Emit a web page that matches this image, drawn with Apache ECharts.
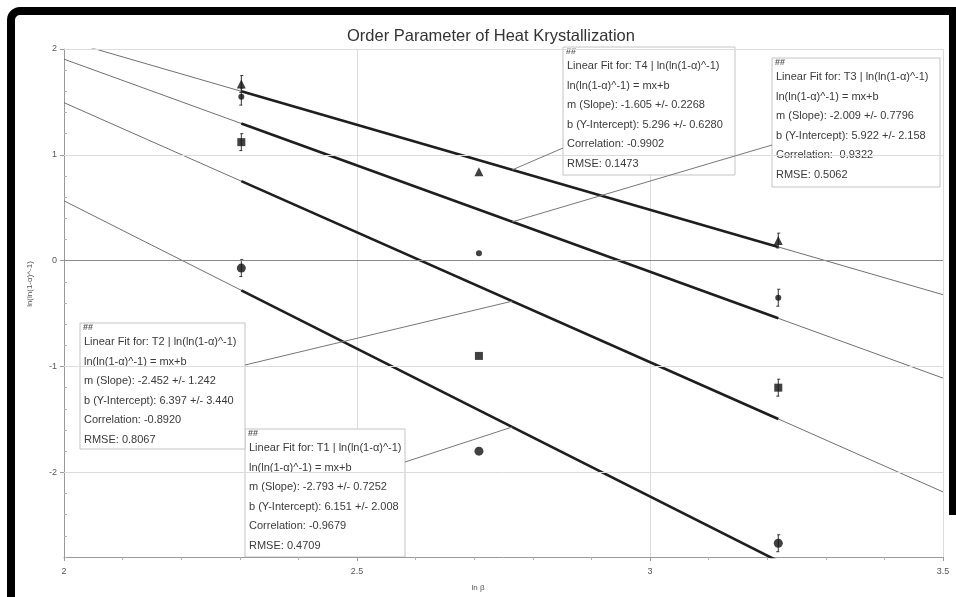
<!DOCTYPE html>
<html><head><meta charset="utf-8">
<script src="https://cdn.jsdelivr.net/npm/echarts@6/dist/echarts.min.js"></script>
<style>html,body{margin:0;padding:0;background:#fff;}#c{width:956px;height:597px;}</style>
</head><body><div id="c"></div>
<script>
// ---- data ----
const xLnBeta = [2.3026, 2.7081, 3.2189];           // ln(10), ln(15), ln(25)
const seriesNames = ['T1', 'T2', 'T3', 'T4'];
const yT1 = [-0.07, -1.80, -2.67];
const yT2 = [1.12, -0.90, -1.20];
const yT3 = [1.55, 0.07, -0.35];
const yT4 = [1.67, 0.84, 0.19];
const errT1 = [0.08, 0, 0.08];
const errT2 = [0.08, 0, 0.08];
const errT3 = [0.08, 0, 0.08];
const errT4 = [0.08, 0, 0.07];
const slopes = [-2.793, -2.452, -2.009, -1.605];
const intercepts = [6.151, 6.397, 5.922, 5.296];
const slopeText = ['-2.793', '-2.452', '-2.009', '-1.605'];
const slopeErrText = ['0.7252', '1.242', '0.7796', '0.2268'];
const interceptText = ['6.151', '6.397', '5.922', '5.296'];
const interceptErrText = ['2.008', '3.440', '2.158', '0.6280'];
const correlationText = ['-0.9679', '-0.8920', '-0.9322', '-0.9902'];
const rmseText = ['0.4709', '0.8067', '0.5062', '0.1473'];
const xTickLabels = [2, 2.5, 3, 3.5];
const yTickLabels = [-2, -1, 0, 1, 2];
const yName = 'ln(ln(1-α)^-1)';
const xName = 'ln β';
const titleText = 'Order Parameter of Heat Krystallization';

// ---- layout / style (not data) ----
const FONT = '"Liberation Sans", Arial, sans-serif';
const markerSymbols = ['circle', 'rect', 'circle', 'triangle'];
const markerSizes = [9, 8, 6, 9];
const boxes = [ // T1, T2, T3, T4
  { left: 245, top: 429, w: 160, h: 128, from: [405, 462] },
  { left: 80, top: 323, w: 165, h: 126, from: [245, 365] },
  { left: 772, top: 58, w: 168, h: 129, from: [772, 145] },
  { left: 563, top: 47, w: 172, h: 128, from: [563, 148] }
];
const anchorX = 2.765;

const ys = [yT1, yT2, yT3, yT4];
const errs = [errT1, errT2, errT3, errT4];
const xMin = 2, xMax = 3.5;

const series = [];
ys.forEach((yArr, i) => {
  const m = slopes[i], b = intercepts[i];
  series.push({
    type: 'line', name: seriesNames[i] + ' fit ext', showSymbol: false, silent: true, z: 2,
    lineStyle: { color: '#707070', width: 1 },
    data: [[xMin, m * xMin + b], [xMax, m * xMax + b]]
  });
  series.push({
    type: 'line', name: seriesNames[i] + ' fit', showSymbol: false, silent: true, z: 3,
    lineStyle: { color: '#1e1e1e', width: 2.6 },
    data: [[xLnBeta[0], m * xLnBeta[0] + b], [xLnBeta[2], m * xLnBeta[2] + b]]
  });
  series.push({
    type: 'custom', name: seriesNames[i] + ' err', z: 4, silent: true,
    data: xLnBeta.map((x, k) => [x, yArr[k] - errs[i][k], yArr[k] + errs[i][k]]),
    renderItem: function (params, api) {
      const lo = api.coord([api.value(0), api.value(1)]);
      const hi = api.coord([api.value(0), api.value(2)]);
      if (Math.abs(hi[1] - lo[1]) < 1) return null;
      const st = { stroke: '#333', lineWidth: 1 };
      return { type: 'group', children: [
        { type: 'line', shape: { x1: lo[0], y1: lo[1], x2: hi[0], y2: hi[1] }, style: st },
        { type: 'line', shape: { x1: lo[0] - 2, y1: lo[1], x2: lo[0] + 1, y2: lo[1] }, style: st },
        { type: 'line', shape: { x1: hi[0] - 1, y1: hi[1], x2: hi[0] + 2, y2: hi[1] }, style: st }
      ]};
    }
  });
  series.push({
    type: 'scatter', name: seriesNames[i], z: 5,
    symbol: markerSymbols[i], symbolSize: markerSizes[i],
    itemStyle: { color: '#111' },
    data: xLnBeta.map((x, k) => [x, yArr[k]])
  });
});
// horizontal grid lines
series.push({
  type: 'line', data: [], silent: true, z: 1,
  markLine: {
    symbol: 'none', silent: true, label: { show: false }, animation: false,
    data: yTickLabels.map(v => ({ yAxis: v, lineStyle: { color: v === 0 ? '#8a8a8a' : '#dcdcdc', width: v === 0 ? 1.2 : 1, type: 'solid' } }))
  }
});

const chart = echarts.init(document.getElementById('c'), null, { renderer: 'canvas' });
const option = {
  animation: false,
  backgroundColor: '#fff',
  title: { text: titleText, left: 342, top: 23, textStyle: { fontFamily: FONT, fontSize: 16.5, fontWeight: 'normal', color: '#333' } },
  grid: { left: 64, right: 13, top: 49, bottom: 40 },
  xAxis: {
    type: 'value', min: xMin, max: xMax, interval: 0.5,
    axisLine: { onZero: false, lineStyle: { color: '#9a9a9a' } },
    axisTick: { length: 4, lineStyle: { color: '#9a9a9a' } },
    minorTick: { show: true, splitNumber: 5, length: 3, lineStyle: { color: '#b0b0b0' } },
    axisLabel: { fontFamily: FONT, fontSize: 9, color: '#555', margin: 10,
      formatter: v => { const t = xTickLabels.find(s => Math.abs(s - v) < 1e-6); return t === undefined ? '' : String(t); } },
    splitLine: { show: true, lineStyle: { color: '#dcdcdc', width: 1 } }
  },
  yAxis: [{
    type: 'value', min: -2.8, max: 2, interval: 0.2,
    axisLine: { show: true, onZero: false, lineStyle: { color: '#9a9a9a' } },
    axisTick: { show: true, inside: true, length: 3, lineStyle: { color: '#b0b0b0' } },
    axisLabel: { fontFamily: FONT, fontSize: 9, color: '#555', margin: 7,
      formatter: v => { const t = yTickLabels.find(s => Math.abs(s - v) < 1e-6); return t === undefined ? '' : String(t); } },
    splitLine: { show: false }
  }, {
    type: 'value', min: -2.8, max: 2, position: 'left',
    axisLine: { show: false }, axisLabel: { show: false }, splitLine: { show: false },
    axisTick: { show: true, length: 4, customValues: yTickLabels, lineStyle: { color: '#9a9a9a' } }
  }],
  series: series
};
chart.setOption(option);

// annotation boxes + leader lines
const graphics = [];
graphics.push({ type: 'rect', silent: true, z: 100, shape: { x: 11, y: 11, width: 1100, height: 800, r: [9, 0, 0, 0] }, style: { fill: null, stroke: '#000', lineWidth: 8 } });
graphics.push({ type: 'rect', silent: true, z: 100, shape: { x: 949, y: 7, width: 7, height: 508 }, style: { fill: '#000' } });
graphics.push({ type: 'text', silent: true, x: 30, y: 284, rotation: Math.PI / 2, style: { text: yName, font: '8px ' + FONT, fill: '#555', textAlign: 'center', textVerticalAlign: 'middle' } });
graphics.push({ type: 'text', silent: true, x: 478, y: 588, style: { text: xName, font: '8px ' + FONT, fill: '#555', textAlign: 'center', textVerticalAlign: 'middle' } });

boxes.forEach((bx, i) => {
  const target = chart.convertToPixel({ gridIndex: 0 }, [anchorX, slopes[i] * anchorX + intercepts[i]]);
  graphics.push({ type: 'line', silent: true, z: 20, shape: { x1: bx.from[0], y1: bx.from[1], x2: target[0], y2: target[1] }, style: { stroke: '#777', lineWidth: 1 } });
});
boxes.forEach((bx, i) => {
  const lines = [
    'Linear Fit for: ' + seriesNames[i] + ' | ' + yName,
    yName + ' = mx+b',
    'm (Slope): ' + slopeText[i] + ' +/- ' + slopeErrText[i],
    'b (Y-Intercept): ' + interceptText[i] + ' +/- ' + interceptErrText[i],
    'Correlation: ' + correlationText[i],
    'RMSE: ' + rmseText[i]
  ];
  const children = [
    { type: 'rect', shape: { x: bx.left, y: bx.top, width: bx.w, height: bx.h }, style: { fill: '#fff', stroke: '#c4c4c4', lineWidth: 1 } },
    { type: 'text', x: bx.left + 3, y: bx.top + 5, style: { text: '##', font: 'bold 9px ' + FONT, fill: '#555', textVerticalAlign: 'middle' } }
  ];
  lines.forEach((t, k) => {
    children.push({ type: 'text', x: bx.left + 4, y: bx.top + 19 + k * 19.5, style: { text: t, font: '11px ' + FONT, fill: '#3a3a3a', textVerticalAlign: 'middle' } });
  });
  graphics.push({ type: 'group', silent: true, z: 30, children: children });
});
chart.setOption({ graphic: graphics });
</script></body></html>
